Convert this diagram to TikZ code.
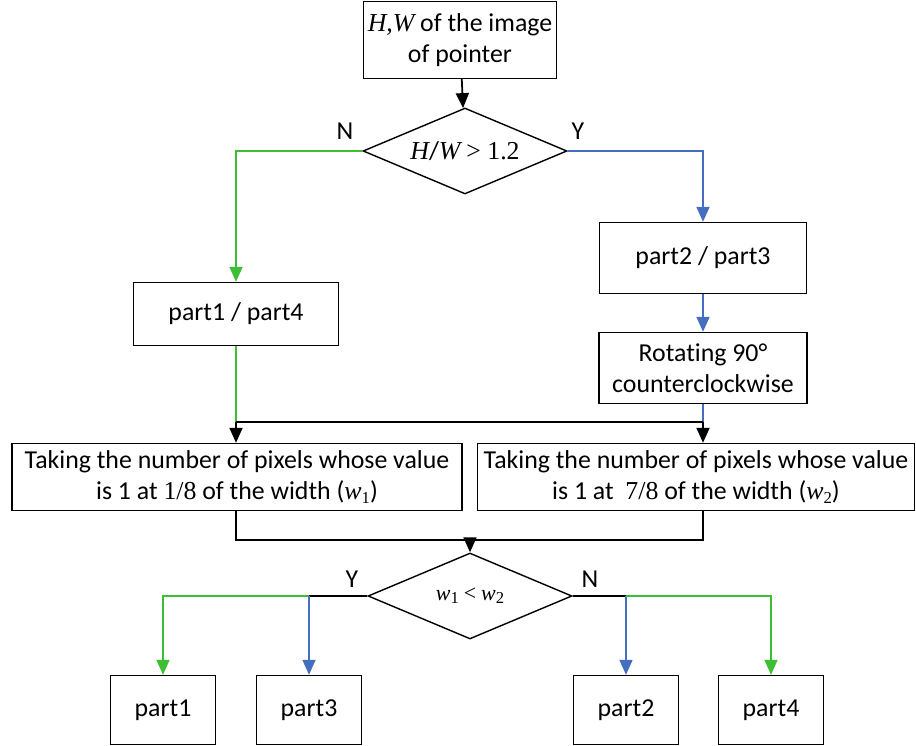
\documentclass[tikz,border=0pt]{standalone}
\usepackage{fontspec}
\setmainfont{Carlito}[Ligatures=NoCommon]
\newfontfamily\tms{Liberation Serif}
\usetikzlibrary{shapes.geometric,arrows.meta}
\definecolor{flowgreen}{RGB}{62,190,52}
\definecolor{flowblue}{RGB}{70,110,190}

% italic variables and the two counts
\newcommand{\var}[1]{{\tms\itshape #1}}
\newcommand{\cnt}[1]{{\tms\itshape w}\raisebox{-0.3ex}{\tms\fontsize{9.5}{10}\selectfont #1}}

\begin{document}
\begin{tikzpicture}[x=0.02cm, y=-0.02cm,
    font=\fontsize{14.7}{17.5}\selectfont,
    stepbox/.style={rectangle, draw, line width=0.8pt, align=center, inner sep=2pt},
    cond/.style={diamond, draw, line width=0.8pt, aspect=2.4, minimum width=4.08cm,
                 minimum height=1.72cm, inner sep=0pt},
    arr/.style={-{Triangle[length=3mm,width=2.6mm]}, line width=1pt},
    link/.style={line width=1pt}
]
\useasboundingbox (0,0) rectangle (916,746);

\node[stepbox, minimum width=3.86cm, minimum height=1.54cm] (size) at (460,40)
  {\var{H,W} of the image\\of pointer};
\node[cond] (ratio) at (465,151) {\var{H}/\var{W} {\tms> 1.2}};
\node (no1) at (345,131) {N};
\node (yes1) at (578,131) {Y};

\node[stepbox, minimum width=4.1cm, minimum height=1.26cm] (p14) at (236,314) {part1 / part4};
\node[stepbox, minimum width=4.14cm, minimum height=1.42cm] (p23) at (703,258) {part2 / part3};
\node[stepbox, minimum width=4.16cm, minimum height=1.42cm] (rot) at (703,368)
  {Rotating 90°\\counterclockwise};

\node[stepbox, minimum width=9.0cm, minimum height=1.34cm] (cnt1) at (237,477)
  {Taking the number of pixels whose value\\is 1 at {\tms 1/8} of the width (\cnt{1})};
\node[stepbox, minimum width=8.74cm, minimum height=1.34cm] (cnt2) at (696,477)
  {Taking the number of pixels whose value\\is 1 at \ {\tms 7/8} of the width (\cnt{2})};

\node[cond, font=\fontsize{12.5}{14}\selectfont] (test) at (470,596) {\cnt{1} {\tms<} \cnt{2}};
\node (yes2) at (352,579) {Y};
\node (no2) at (590,579) {N};

\node[stepbox, minimum width=2.1cm, minimum height=1.38cm] (b1) at (163,710) {part1};
\node[stepbox, minimum width=2.1cm, minimum height=1.38cm] (b3) at (309,710) {part3};
\node[stepbox, minimum width=2.1cm, minimum height=1.38cm] (b2) at (626,710) {part2};
\node[stepbox, minimum width=2.1cm, minimum height=1.38cm] (b4) at (771,710) {part4};

% first decision
\draw[arr] (size) -- (ratio);
\draw[arr, flowgreen] (ratio.west) -| (p14.north);
\draw[arr, flowblue] (ratio.east) -| (p23.north);
\draw[arr, flowblue] (p23) -- (rot);

% merge into the two counts
\coordinate (j1) at (236,422);
\coordinate (j2) at (703,422);
\draw[link, flowgreen] (p14.south) -- (j1);
\draw[link, flowblue] (rot.south) -- (j2);
\draw[link] (j1) -- (j2);
\draw[arr] (j1) -- (j1 |- cnt1.north);
\draw[arr] (j2) -- (j2 |- cnt2.north);

\coordinate (k1) at (236,540);
\coordinate (k2) at (703,540);
\draw[link] (k1 |- cnt1.south) -- (k1) -- (k2) -- (k2 |- cnt2.south);
\draw[arr] (test.north |- k1) -- (test.north);

% second decision
\coordinate (ly) at (309,596);
\coordinate (ry) at (626,596);
\draw[link] (test.west) -- (ly);
\draw[link] (test.east) -- (ry);
\draw[arr, flowgreen] (ly) -| (b1.north);
\draw[arr, flowblue] (ly) -- (b3.north);
\draw[arr, flowblue] (ry) -- (b2.north);
\draw[arr, flowgreen] (ry) -| (b4.north);
\end{tikzpicture}
\end{document}
